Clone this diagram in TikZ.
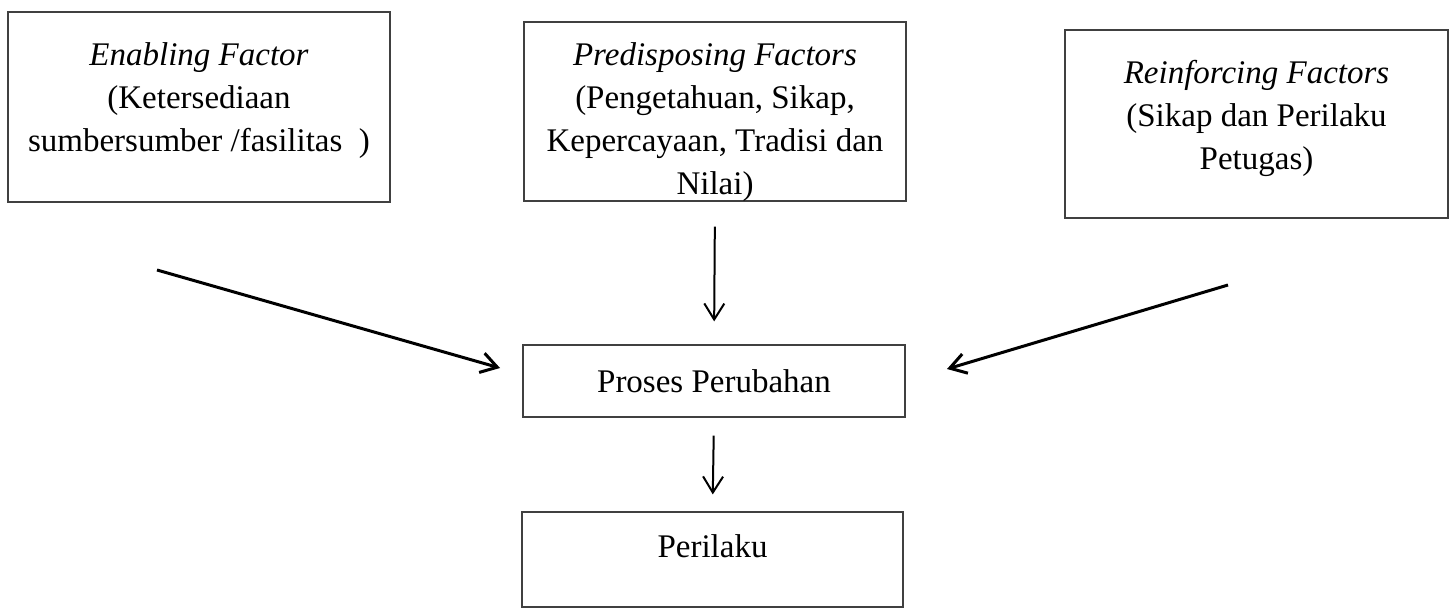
\documentclass[tikz,border=0pt]{standalone}
\usepackage{fontspec}
\setmainfont{Liberation Serif}
\usetikzlibrary{arrows.meta,positioning}
\tikzset{
  box/.style={draw=black!75, line width=0.6pt, inner sep=0pt},
  txt/.style={align=center, inner sep=0pt, font=\fontsize{16.5}{21.5}\selectfont},
  arr/.style={-{Straight Barb[length=8pt,width=10pt]}, line width=1pt},
}
\begin{document}
\begin{tikzpicture}[x=0.5pt,y=-0.5pt]
  \useasboundingbox (0,0) rectangle (1454,610);
  % three factor boxes on top
  \node[box, minimum width=191pt, minimum height=95pt] (enab) at (199,107) {};
  \node[box, minimum width=191pt, minimum height=89.5pt] (pred) at (715,111.5) {};
  \node[box, minimum width=191.5pt, minimum height=94pt] (reinf) at (1256.5,124) {};
  \node[txt, below=15.5pt of enab.north] (enabtxt) {\textit{Enabling Factor}\\(Ketersediaan\\sumbersumber /fasilitas\ \ )};
  \node[txt, below=10.5pt of pred.north] (predtxt) {\textit{Predisposing Factors}\\(Pengetahuan, Sikap,\\Kepercayaan, Tradisi dan\\Nilai)};
  \node[txt, below=15pt of reinf.north] (reinftxt) {\textit{Reinforcing Factors}\\(Sikap dan Perilaku\\Petugas)};
  % process and result
  \node[box, minimum width=191pt, minimum height=36pt] (proses) at (714,381) {};
  \node[txt] (prosestxt) at (proses) {Proses Perubahan};
  \node[box, minimum width=190.5pt, minimum height=47.5pt] (perilaku) at (712.5,559.5) {};
  \node[txt, below=11.5pt of perilaku.north] (perilakutxt) {Perilaku};
  % free ends of the slanted arrows
  \coordinate (enabout) at (157,270);
  \coordinate (enabin) at (500,368);
  \coordinate (reinfout) at (1228,285);
  \coordinate (reinfin) at (947,369);
  \draw[arr, line width=1.5pt] (enabout) -- (enabin);
  \draw[arr, line width=1.5pt] (reinfout) -- (reinfin);
  \draw[arr, shorten <=12.5pt, shorten >=11.5pt] (pred.south) -- (proses.north);
  \draw[arr, shorten <=9pt, shorten >=8.5pt] (proses.south) -- (perilaku.north);
\end{tikzpicture}
\end{document}
